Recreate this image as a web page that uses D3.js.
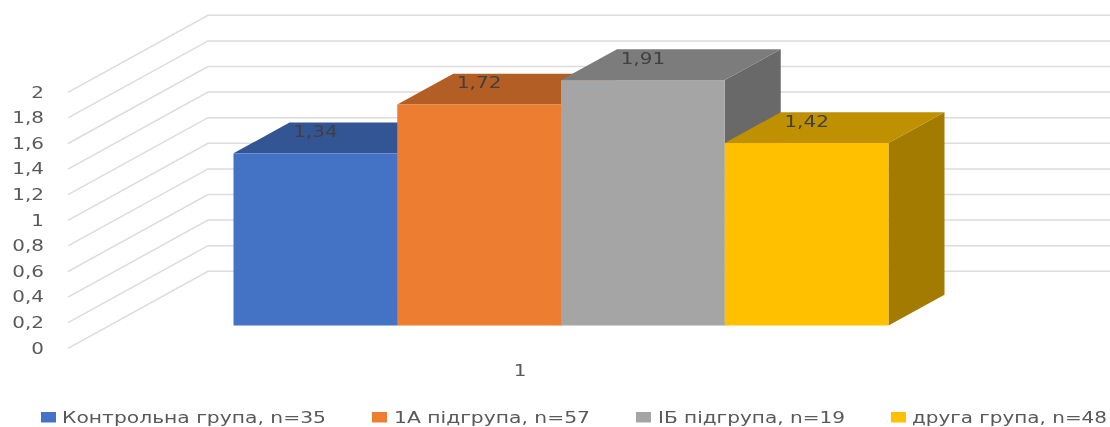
<!DOCTYPE html>
<html>
<head>
<meta charset="utf-8">
<script src="https://cdn.jsdelivr.net/npm/d3@7"></script>
<style>
  html, body { margin: 0; padding: 0; background: #fff; }
  svg { display: block; filter: blur(0.45px); }
  text { font-family: "DejaVu Sans", sans-serif; }
</style>
</head>
<body>
<div id="chart"></div>
<script>
// values
var groups = ["Контрольна група, n=35", "1А підгрупа, n=57", "ІБ підгрупа, n=19", "друга група, n=48"];
var values = [1.34, 1.72, 1.91, 1.42];
var valueLabels = ["1,34", "1,72", "1,91", "1,42"];
var axisTicks = [0, 0.2, 0.4, 0.6, 0.8, 1, 1.2, 1.4, 1.6, 1.8, 2];
var categoryLabel = "1";

var frontColors = ["#4472C4", "#ED7D31", "#A5A5A5", "#FFC000"];
var topColors = ["#335593", "#B35E25", "#7C7C7C", "#BF9000"];
var sideColors = ["#2A4679", "#A04F1C", "#696969", "#A37B00"];

var svgWidth = 1110, svgHeight = 427;
var stretch = 1.33; // the source image is stretched sideways

var svg = d3.select("#chart")
    .append("svg")
    .attr("width", svgWidth)
    .attr("height", svgHeight);

// wall scale (front edge of the floor) and the depth direction
var yWall = d3.scaleLinear().domain([0, 2]).range([348.3, 92.3]);
var depthX = d3.scaleLinear().domain([0, 1]).range([0, 140]);
var depthY = d3.scaleLinear().domain([0, 1]).range([0, -77]);

// bars sit inside the floor, between these depths
var barFront = 0.29, barBack = 0.69;
var wallLeft = 68, wallRight = 1110;

var xBar = d3.scaleBand().domain(groups).range([233.5, 888.5]).padding(0);
var yBar = d3.scaleLinear().domain([0, 2]).range([325.5, 68.5]);

// Gridlines
svg.append("g").selectAll("path")
    .data(axisTicks)
    .enter().append("path")
    .attr("fill", "none")
    .attr("stroke", "#dcdcdc")
    .attr("stroke-width", 1.5)
    .attr("d", function(d) {
        var backX = wallLeft + depthX(1), backY = yWall(d) + depthY(1);
        return "M" + wallLeft + "," + yWall(d) + "L" + backX + "," + backY + "L" + wallRight + "," + backY;
    });

// Value axis
var axis = svg.append("g")
    .attr("transform", "translate(44,0)")
    .call(d3.axisLeft(yWall)
        .tickValues(axisTicks)
        .tickSize(0)
        .tickPadding(0)
        .tickFormat(function(d) { return String(d).replace(".", ","); }));
axis.select(".domain").remove();
axis.selectAll("text")
    .attr("fill", "#595959")
    .style("font-size", "15px")
    .style("font-family", '"DejaVu Sans", sans-serif')
    .attr("transform", "scale(" + stretch + ",1)");

// Bars: side, top, front
var dx = depthX(barBack - barFront), dy = depthY(barBack - barFront);
var bars = svg.append("g").selectAll("g")
    .data(groups)
    .enter().append("g");

bars.append("path")
    .attr("fill", function(d, i) { return sideColors[i]; })
    .attr("d", function(d, i) {
        var r = xBar(d) + xBar.bandwidth(), t = yBar(values[i]), b = yBar(0);
        return "M" + r + "," + t + "L" + (r + dx) + "," + (t + dy) + "L" + (r + dx) + "," + (b + dy) + "L" + r + "," + b + "Z";
    });

bars.append("path")
    .attr("fill", function(d, i) { return topColors[i]; })
    .attr("d", function(d, i) {
        var l = xBar(d), r = l + xBar.bandwidth(), t = yBar(values[i]);
        return "M" + l + "," + t + "L" + (l + dx) + "," + (t + dy) + "L" + (r + dx) + "," + (t + dy) + "L" + r + "," + t + "Z";
    });

bars.append("rect")
    .attr("x", function(d) { return xBar(d); })
    .attr("y", function(d, i) { return yBar(values[i]); })
    .attr("width", xBar.bandwidth())
    .attr("height", function(d, i) { return yBar(0) - yBar(values[i]); })
    .attr("fill", function(d, i) { return frontColors[i]; });

// Value labels on the tops
svg.append("g").selectAll("text")
    .data(groups)
    .enter().append("text")
    .attr("transform", function(d, i) {
        var x = xBar(d) + xBar.bandwidth() / 2;
        return "translate(" + x + "," + (yBar(values[i]) - 16) + ") scale(" + stretch + ",1)";
    })
    .attr("text-anchor", "middle")
    .attr("fill", "#404040")
    .style("font-size", "15px")
    .text(function(d, i) { return valueLabels[i]; });

// Category label
svg.append("text")
    .attr("transform", "translate(520,376) scale(" + stretch + ",1)")
    .attr("text-anchor", "middle")
    .attr("fill", "#595959")
    .style("font-size", "15px")
    .text(categoryLabel);

// Legend: text widths are fitted to the stretched source
var legendSwatchX = [41, 372, 636, 891];
var legendTextX = [62, 394, 658, 912];
var legendTextWidth = [264, 196, 187, 195];

var legend = svg.append("g").selectAll("g")
    .data(groups)
    .enter().append("g");

legend.append("rect")
    .attr("x", function(d, i) { return legendSwatchX[i]; })
    .attr("y", 412)
    .attr("width", 15)
    .attr("height", 10.5)
    .attr("fill", function(d, i) { return frontColors[i]; });

legend.append("text")
    .attr("x", function(d, i) { return legendTextX[i]; })
    .attr("y", 423)
    .attr("textLength", function(d, i) { return legendTextWidth[i]; })
    .attr("lengthAdjust", "spacingAndGlyphs")
    .attr("fill", "#595959")
    .style("font-size", "15px")
    .text(function(d) { return d; });
</script>
</body>
</html>
